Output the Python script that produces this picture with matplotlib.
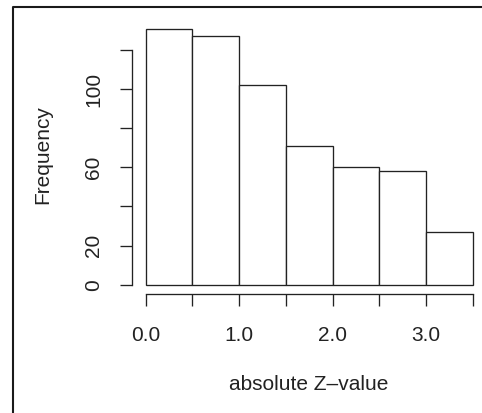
import matplotlib.pyplot as plt
from matplotlib.lines import Line2D

plt.rcParams["font.family"] = ["Liberation Sans", "DejaVu Sans"]

# histogram of absolute Z-values, bins of width 0.5
bin_edges = [0.0, 0.5, 1.0, 1.5, 2.0, 2.5, 3.0, 3.5]
counts = [131, 127, 102, 71, 60, 58, 27]

x_ticks = [0.0, 0.5, 1.0, 1.5, 2.0, 2.5, 3.0, 3.5]
x_tick_labels = ["0.0", "", "1.0", "", "2.0", "", "3.0", ""]
y_ticks = [0, 20, 40, 60, 80, 100, 120]
y_tick_labels = ["0", "20", "", "60", "", "100", ""]

INK = "#222222"
W, H = 482, 413


def main() -> None:
    fig = plt.figure(figsize=(W / 100, H / 100), dpi=100)
    ax = fig.add_axes([145.7 / W, 1 - 284.7 / H, 327.0 / W, 273.7 / H])

    widths = [b - a for a, b in zip(bin_edges[:-1], bin_edges[1:])]
    bars = ax.bar(bin_edges[:-1], counts, width=widths, align="edge",
                  facecolor="white", edgecolor=INK, linewidth=0.95)
    for bar in bars:
        bar.set_clip_on(False)

    ax.set_xlim(0, 3.5)
    ax.set_ylim(0, 140)

    for side in ("top", "right"):
        ax.spines[side].set_visible(False)
    ax.spines["left"].set_position(("outward", 9.6))
    ax.spines["bottom"].set_position(("outward", 6.9))
    ax.spines["left"].set_bounds(0, 120)
    ax.spines["bottom"].set_bounds(0, 3.5)
    for side in ("left", "bottom"):
        ax.spines[side].set_color(INK)
        ax.spines[side].set_linewidth(0.95)

    ax.set_xticks(x_ticks, x_tick_labels)
    ax.set_yticks(y_ticks, y_tick_labels)
    ax.tick_params(axis="both", direction="out", length=8.8, width=0.95,
                   color=INK, labelcolor=INK, labelsize=15)
    ax.tick_params(axis="x", pad=14)
    ax.tick_params(axis="y", pad=12)
    for lab in ax.get_yticklabels():
        lab.set_rotation(90)
        lab.set_va("center")

    fig.text(309 / W, 1 - 385 / H, "absolute Z\u2013value", ha="center",
             va="center", fontsize=15, color=INK)
    fig.text(43 / W, 1 - 155 / H, "Frequency", ha="center", va="center",
             rotation=90, fontsize=15, color=INK)

    # frame around the figure, cut off at the right and bottom edges
    x0, y0 = 12.5 / W, 1 - 7 / H
    fig.add_artist(Line2D([x0, x0, 1.05], [-0.05, y0, y0],
                          transform=fig.transFigure, color="#1a1a1a",
                          linewidth=1.5))

    fig.savefig("out.png", dpi=100)
    plt.close(fig)


if __name__ == "__main__":
    main()
